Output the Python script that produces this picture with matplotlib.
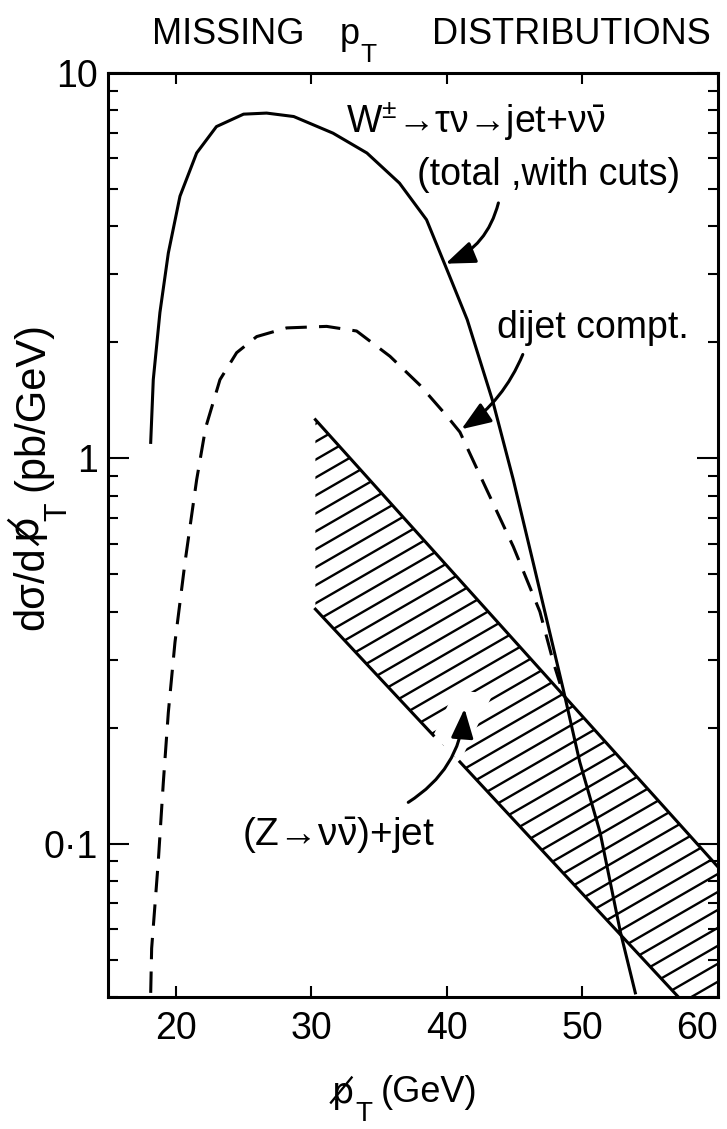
import numpy as np
import matplotlib
matplotlib.use("Agg")
import matplotlib.pyplot as plt
from matplotlib import font_manager
from matplotlib.patches import Polygon, FancyArrowPatch
from matplotlib.ticker import FixedLocator, FixedFormatter, LogLocator, NullFormatter

_names = {f.name for f in font_manager.fontManager.ttflist}
FONT = "Liberation Sans" if "Liberation Sans" in _names else "DejaVu Sans"

plt.rcParams["font.family"] = [FONT, "DejaVu Sans"]
plt.rcParams["mathtext.fontset"] = "custom"
plt.rcParams["mathtext.rm"] = FONT
plt.rcParams["mathtext.it"] = FONT
plt.rcParams["mathtext.bf"] = FONT
plt.rcParams["mathtext.sf"] = FONT
plt.rcParams["mathtext.fallback"] = "stixsans"

# W -> tau nu -> jet + nu nubar (total, with cuts)
w_pt = [18.15, 18.34, 18.83, 19.45, 20.31, 21.54, 23.0, 25.0, 26.7, 28.7, 31.6, 34.1,
        36.5, 38.5, 40.2, 41.5, 43.4, 44.9, 46.4, 48.6, 49.8, 51.3, 52.8, 53.9]
w_xsec = [1.10, 1.60, 2.39, 3.41, 4.79, 6.20, 7.26, 7.82, 7.87, 7.71, 6.98, 6.20,
          5.18, 4.16, 2.97, 2.29, 1.40, 0.88, 0.53, 0.25, 0.163, 0.107, 0.059, 0.041]

# dijet component
dijet_pt = [18.15, 18.22, 18.71, 19.08, 19.45, 19.94, 20.68, 21.54, 22.2, 23.26, 24.49, 25.97,
            28.18, 31.13, 33.34, 35.8, 38.0, 39.98, 40.96, 42.93, 44.9, 46.86, 47.85, 48.35]
dijet_xsec = [0.041, 0.0535, 0.090, 0.144, 0.219, 0.333, 0.537, 0.88, 1.2, 1.60, 1.88, 2.07,
              2.18, 2.20, 2.14, 1.84, 1.55, 1.29, 1.17, 0.83, 0.59, 0.40, 0.296, 0.26]

# (Z -> nu nubar) + jet band, upper and lower edge (lower edge broken by the label arrow)
z_pt = [30.3, 60.0]
z_upper = [1.26, 0.087]
z_lower_pt_a = [30.3, 39.0]
z_lower_a = [0.406, 0.191]
z_lower_pt_b = [40.96, 60.0]
z_lower_b = [0.163, 0.031]

x_ticks = [20, 30, 40, 50, 60]
y_ticks = [0.1, 1, 10]
y_ticklabels = ["0\u00b71", "1", "10"]

fig = plt.figure(figsize=(7.27, 11.29), dpi=100)
ax = fig.add_axes([108 / 727, 1 - 997 / 1129, 610 / 727, 924 / 1129])
ax.set_yscale("log")
ax.set_xlim(15, 60)
ax.set_ylim(0.04, 10)

ax.plot(w_pt, w_xsec, color="black", lw=2.2, zorder=3)
ax.plot(dijet_pt, dijet_xsec, color="black", lw=2.2, dashes=(7, 4), zorder=3)

# band outline used as clip path for the slanted hatching
band_xy = np.column_stack([
    [z_pt[0], z_pt[1], z_lower_pt_b[1], z_lower_pt_b[0], z_lower_pt_a[1], z_lower_pt_a[0]],
    [z_upper[0], z_upper[1], z_lower_b[1], z_lower_b[0], z_lower_a[1], z_lower_a[0]],
])
band = Polygon(band_xy, closed=True, fill=False, edgecolor="none")
ax.add_patch(band)

hatch_rise = 0.0203   # decades per GeV (about 30 degrees on the page)
hatch_step = 0.0466   # decades between hatch lines
for c in np.arange(-2.2, 0.2, hatch_step):
    hx = np.array([28.0, 62.0])
    hy = 10 ** (c + hatch_rise * (hx - 30.0))
    ln, = ax.plot(hx, hy, color="black", lw=1.7, zorder=1.5)
    ln.set_clip_path(band)

# hatching left open around the label arrow
gap = Polygon([[39.0, 0.191], [40.96, 0.163], [43.4, 0.245], [40.6, 0.25]],
              closed=True, facecolor="white", edgecolor="none", zorder=1.8)
ax.add_patch(gap)

ax.plot(z_pt, z_upper, color="black", lw=2.2, zorder=2)
ax.plot(z_lower_pt_a, z_lower_a, color="black", lw=2.2, zorder=2)
ax.plot(z_lower_pt_b, z_lower_b, color="black", lw=2.2, zorder=2)

# axes, ticks
for sp in ax.spines.values():
    sp.set_linewidth(2.2)
ax.xaxis.set_major_locator(FixedLocator(x_ticks))
ax.yaxis.set_major_locator(FixedLocator(y_ticks))
ax.yaxis.set_major_formatter(FixedFormatter(y_ticklabels))
ax.yaxis.set_minor_locator(LogLocator(base=10, subs=np.arange(2, 10)))
ax.yaxis.set_minor_formatter(NullFormatter())
ax.tick_params(axis="x", which="major", direction="in", length=8, width=1.5,
               top=True, labelsize=27, pad=10)
ax.tick_params(axis="y", which="major", direction="in", length=15, width=1.5,
               right=True, labelsize=27, pad=7)
ax.tick_params(axis="y", which="minor", direction="in", length=7, width=1.5, right=True)
ax.get_xticklabels()[-1].set_horizontalalignment("right")

# title
ty = 1 - 44 / 1129
fig.text(152 / 727, ty, "MISSING", fontsize=26, va="baseline")
tp = fig.text(340 / 727, ty, "p", fontsize=26, va="baseline")
ax.annotate("T", xy=(1, 0.25), xycoords=tp, fontsize=19, ha="left", va="top")
fig.text(432 / 727, ty, "DISTRIBUTIONS", fontsize=26, va="baseline")

# x label: slashed p_T (GeV)
SLASH = ["DejaVu Sans"]
xp = fig.text(333 / 727, 1 - 1103 / 1129, "p\u0338", fontsize=25, ha="left", va="baseline",
              family=SLASH)
xs = ax.annotate("T", xy=(1, 0.25), xycoords=xp, fontsize=20, ha="left", va="top")
ax.annotate("(GeV)", xy=(1, 0), xycoords=(xs, xp), xytext=(6, 0), textcoords="offset points",
            fontsize=26, ha="left", va="bottom")

# y label: d sigma / d slashed p_T (pb/GeV)
ya = fig.text(52 / 727, 1 - 630 / 1129, "d\u03c3/d", fontsize=30, rotation=90,
              ha="right", va="bottom")
yp = ax.annotate("p\u0338", xy=(1, 1), xycoords=ya, fontsize=29, rotation=90, ha="right",
                 va="bottom", family=SLASH)
ys = ax.annotate("T", xy=(0.78, 1), xycoords=yp, fontsize=22, rotation=90, ha="left", va="bottom")
ax.annotate("(pb/GeV)", xy=(1, 1), xycoords=(ya, ys), xytext=(0, 8), textcoords="offset points",
            fontsize=30, rotation=90, ha="right", va="bottom")

# curve labels and pointers
ax.text(42.1, 7.5, "W$^{\\pm}$\u2192\u03c4\u03bd\u2192jet+\u03bd$\\bar{\\nu}$", fontsize=27,
        ha="center", va="center")
ax.text(47.5, 5.44, "(total ,with cuts)", fontsize=27, ha="center", va="center")
ax.text(50.8, 2.18, "dijet compt.", fontsize=27, ha="center", va="center")
ax.text(32.0, 0.105, "(Z\u2192\u03bd$\\bar{\\nu}$)+jet", fontsize=28, ha="center", va="center")

arrow_kw = dict(arrowstyle="-|>,head_length=1.0,head_width=0.38", mutation_scale=18,
                lw=2.2, color="black", shrinkA=0, shrinkB=0, zorder=4)
ax.add_patch(FancyArrowPatch((43.8, 4.6), (39.9, 3.2), connectionstyle="arc3,rad=-0.25", **arrow_kw))
ax.add_patch(FancyArrowPatch((45.6, 1.86), (41.07, 1.19), connectionstyle="arc3,rad=-0.15", **arrow_kw))
ax.add_patch(FancyArrowPatch((37.15, 0.128), (41.3, 0.224), connectionstyle="arc3,rad=0.25", **arrow_kw))

fig.savefig("out.png", dpi=100)
